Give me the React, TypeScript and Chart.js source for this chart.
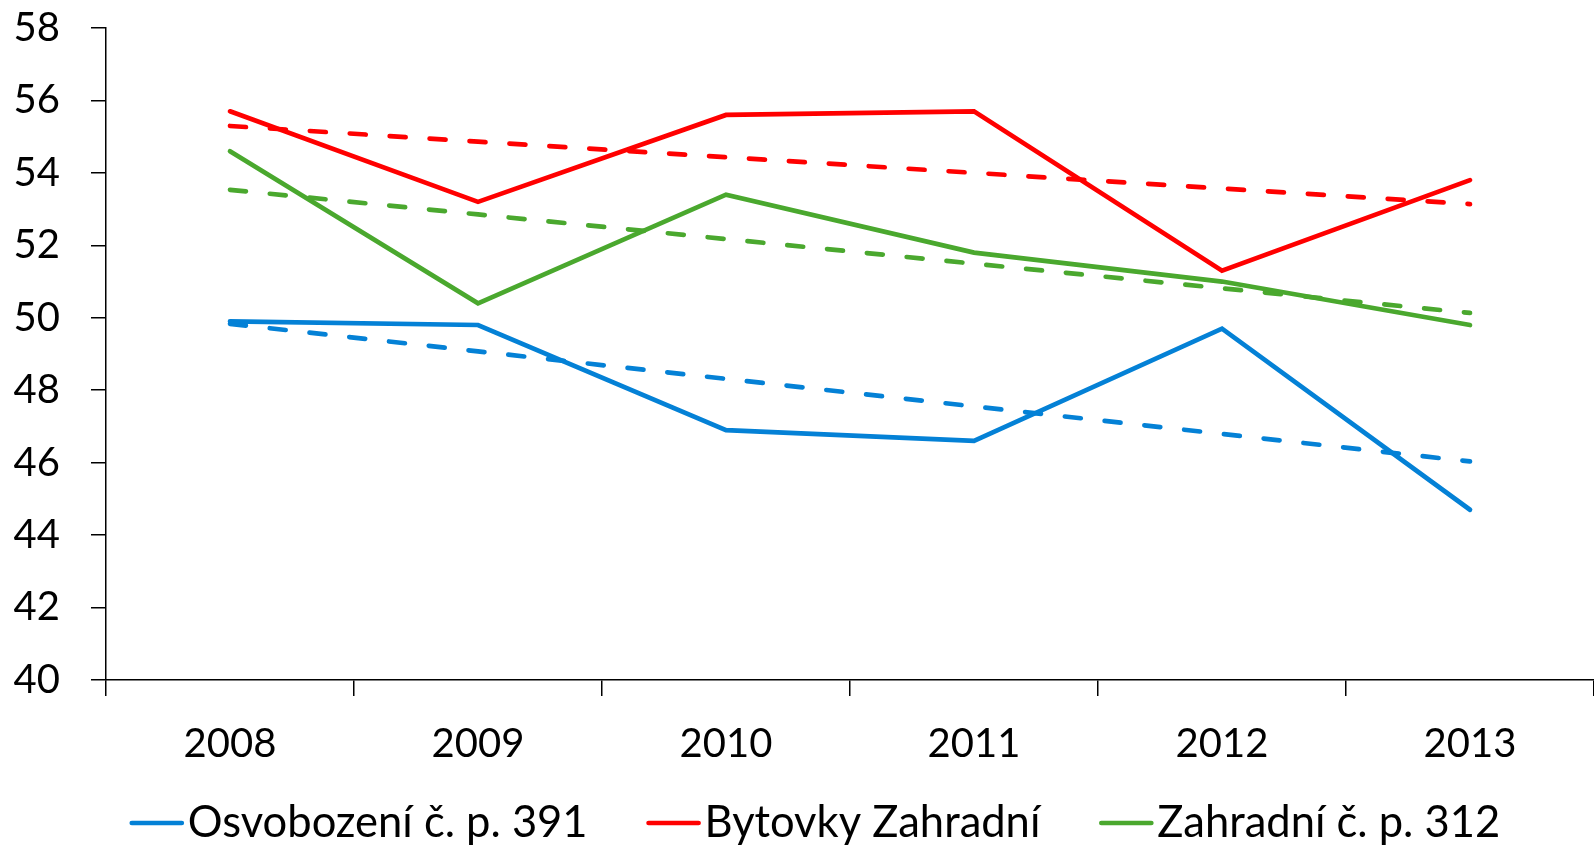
import React, { useEffect, useRef } from "react";
import { Chart, registerables } from "chart.js";

Chart.register(...registerables);

const years = ["2008", "2009", "2010", "2011", "2012", "2013"];
const seriesNames = ["Osvobození č. p. 391", "Bytovky Zahradní", "Zahradní č. p. 312"];
const osvobozeni = [49.9, 49.8, 46.9, 46.6, 49.7, 44.7];
const bytovky = [55.7, 53.2, 55.6, 55.7, 51.3, 53.8];
const zahradni = [54.6, 50.4, 53.4, 51.8, 51.0, 49.8];
const colors = ["#0481d6", "#ff0000", "#4aa82e"];

// Linear (least squares) trend line, as in the spreadsheet's trendline
function trend(values: number[]): number[] {
  const n = values.length;
  const xs = values.map((_, i) => i + 1);
  const mx = xs.reduce((a, b) => a + b, 0) / n;
  const my = values.reduce((a, b) => a + b, 0) / n;
  let num = 0;
  let den = 0;
  xs.forEach((x, i) => {
    num += (x - mx) * (values[i] - my);
    den += (x - mx) * (x - mx);
  });
  const slope = num / den;
  return xs.map((x) => my + slope * (x - mx));
}

const FONT = "Lato";

// Legend drawn below the axis: a line sample right next to each label
const bottomLegend = {
  id: "bottomLegend",
  afterDraw(chart: any) {
    const ctx = chart.ctx as CanvasRenderingContext2D;
    const items = chart.data.datasets.slice(0, 3);
    const lineLen = 54;
    const lineGap = 4;
    const itemGap = 59;
    const centerX = 815;
    const y = 823;
    ctx.save();
    ctx.font = `43.5px ${FONT}`;
    const widths = items.map((d: any) => ctx.measureText(d.label).width);
    const total =
      widths.reduce((a: number, w: number) => a + w + lineLen + lineGap, 0) +
      itemGap * (items.length - 1);
    let x = centerX - total / 2;
    items.forEach((d: any, i: number) => {
      ctx.beginPath();
      ctx.strokeStyle = d.borderColor;
      ctx.lineWidth = 4.7;
      ctx.lineCap = "round";
      ctx.moveTo(x + 2, y);
      ctx.lineTo(x + lineLen - 2, y);
      ctx.stroke();
      ctx.fillStyle = "#000";
      ctx.textBaseline = "middle";
      ctx.textAlign = "left";
      ctx.fillText(d.label, x + lineLen + lineGap, y);
      x += lineLen + lineGap + widths[i] + itemGap;
    });
    ctx.restore();
  },
};

export default function App() {
  const ref = useRef<HTMLCanvasElement | null>(null);

  useEffect(() => {
    document.body.style.margin = "0";
    const all = [osvobozeni, bytovky, zahradni];
    const solid = all.map((d, i) => ({
      label: seriesNames[i],
      data: d,
      borderColor: colors[i],
      backgroundColor: colors[i],
      borderWidth: 4.7,
      borderCapStyle: "round" as const,
      borderJoinStyle: "miter" as const,
      pointRadius: 0,
      pointHoverRadius: 0,
      tension: 0,
      fill: false,
      order: 1,
    }));
    const trends = all.map((d, i) => ({
      label: "trend " + seriesNames[i],
      data: trend(d),
      borderColor: colors[i],
      backgroundColor: colors[i],
      borderWidth: 4.7,
      borderDash: [16, 24],
      borderCapStyle: "round" as const,
      pointRadius: 0,
      pointHoverRadius: 0,
      tension: 0,
      fill: false,
      order: 2,
    }));

    const chart = new Chart(ref.current!, {
      type: "line",
      data: { labels: years, datasets: [...solid, ...trends] },
      plugins: [bottomLegend],
      options: {
        animation: false,
        responsive: true,
        maintainAspectRatio: false,
        layout: { padding: { top: 0, left: 0, right: 0, bottom: 56 } },
        plugins: {
          tooltip: { enabled: false },
          legend: { display: false },
        },
        scales: {
          x: {
            offset: true,
            grid: {
              offset: true,
              drawOnChartArea: false,
              drawTicks: true,
              tickLength: 16,
              color: "#000",
              lineWidth: 1.5,
            },
            border: { color: "#000", width: 1.5 },
            ticks: {
              color: "#000",
              padding: 24,
              font: { family: FONT, size: 40 },
              maxRotation: 0,
            },
          },
          y: {
            min: 40,
            max: 58,
            afterFit: (scale: any) => {
              scale.width = 106;
              scale.paddingTop = 28;
              scale.paddingBottom = 0;
            },
            grid: {
              drawOnChartArea: false,
              drawTicks: true,
              tickLength: 15,
              color: "#000",
              lineWidth: 1.5,
            },
            border: { color: "#000", width: 1.5 },
            ticks: {
              stepSize: 2,
              color: "#000",
              padding: 31,
              font: { family: FONT, size: 40 },
            },
          },
        },
      },
    });
    return () => chart.destroy();
  }, []);

  return (
    <div style={{ position: "absolute", left: 0, top: 0, width: 1594, height: 848 }}>
      <canvas ref={ref} />
    </div>
  );
}
